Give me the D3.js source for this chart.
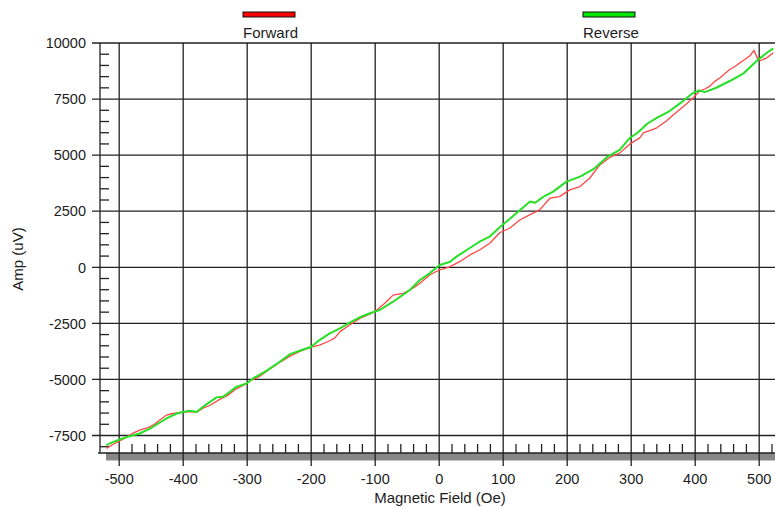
<!DOCTYPE html>
<html>
<head>
<meta charset="utf-8">
<script src="https://cdn.jsdelivr.net/npm/d3@7"></script>
<style>
  body { margin: 0; background: #fff; }
  svg { display: block; font-family: "Liberation Sans", Arial, sans-serif; }
  .grid line { stroke: #222; stroke-width: 1.3; }
  .tick-label { font-size: 14.5px; fill: #1c1c1c; }
  .title { font-size: 15px; fill: #1c1c1c; }
</style>
</head>
<body>
<svg id="chart" width="775" height="507"></svg>
<script>
// Forward sweep (red)
var forwardField = [-520, -510, -500, -490, -480, -468, -455, -445, -436, -426, -418, -410, -400, -390, -379, -369, -358, -343, -330, -317, -305, -295, -280, -265, -250, -233, -218, -200, -187, -171, -163, -155, -140, -124, -108, -95, -85, -72, -64, -56, -46, -38, -30, -15, 0, 8, 17, 32, 48, 63, 79, 95, 110, 126, 142, 157, 173, 188, 204, 220, 235, 251, 267, 282, 298, 313, 319, 330, 340, 355, 366, 376, 387, 397, 407, 415, 423, 431, 439, 447, 454, 462, 470, 477, 485, 492, 498, 503, 512, 522];
var forwardAmp = [-8080, -7900, -7750, -7600, -7420, -7260, -7150, -7000, -6800, -6590, -6530, -6490, -6450, -6430, -6460, -6280, -6150, -5890, -5700, -5420, -5250, -5060, -4850, -4550, -4250, -3960, -3750, -3560, -3470, -3275, -3150, -2870, -2575, -2280, -2080, -1850, -1600, -1240, -1200, -1160, -1015, -880, -715, -345, -120, -60, 30, 250, 550, 770, 1070, 1550, 1740, 2110, 2350, 2560, 3080, 3150, 3450, 3600, 3970, 4565, 4910, 5090, 5500, 5760, 5995, 6100, 6220, 6520, 6800, 7035, 7300, 7560, 7855, 7950, 8080, 8300, 8450, 8650, 8820, 8950, 9120, 9250, 9420, 9670, 9270, 9220, 9340, 9565];

// Reverse sweep (green)
var reverseField = [-520, -509, -499, -484, -468, -452, -439, -426, -410, -400, -390, -379, -369, -358, -348, -338, -327, -317, -301, -291, -270, -249, -233, -218, -200, -187, -171, -155, -140, -124, -108, -93, -72, -46, -30, -15, 1, 17, 27, 43, 63, 79, 95, 110, 120, 142, 150, 163, 178, 199, 220, 241, 262, 282, 298, 310, 325, 340, 360, 381, 397, 407, 415, 433, 454, 475, 496, 512, 522];
var reverseAmp = [-7930, -7785, -7680, -7530, -7410, -7190, -6965, -6740, -6520, -6450, -6400, -6450, -6220, -6000, -5800, -5775, -5550, -5330, -5180, -4955, -4615, -4210, -3870, -3720, -3540, -3245, -2950, -2720, -2470, -2230, -2050, -1905, -1535, -1015, -565, -270, 100, 250, 475, 770, 1140, 1370, 1800, 2150, 2400, 2930, 2880, 3150, 3375, 3820, 4040, 4375, 4910, 5235, 5770, 6000, 6400, 6665, 6965, 7410, 7780, 7885, 7810, 8005, 8305, 8630, 9195, 9565, 9760];

var xTicks = [-500, -400, -300, -200, -100, 0, 100, 200, 300, 400, 500];
var yTicks = [-7500, -5000, -2500, 0, 2500, 5000, 7500, 10000];
var seriesNames = ["Forward", "Reverse"];

var svg = d3.select("svg#chart");

var x = d3.scaleLinear().domain([-530, 530]).range([100, 778.4]);
var y = d3.scaleLinear().domain([-8280, 10000]).range([453, 43]);

var left = x.range()[0], right = x.range()[1];
var top_ = y.range()[1], bottom = y.range()[0];

// gray shadow under the x axis
svg.append("rect")
  .attr("x", 106).attr("y", bottom)
  .attr("width", right - 106).attr("height", 7.5)
  .attr("fill", "#878787");

var grid = svg.append("g").attr("class", "grid");

// horizontal grid lines (10000 is the top border)
grid.selectAll("line.h")
  .data(yTicks)
  .enter().append("line")
  .attr("x1", left - 8).attr("x2", right)
  .attr("y1", d => y(d)).attr("y2", d => y(d));

// vertical grid lines, continued down as major ticks
grid.selectAll("line.v")
  .data(xTicks)
  .enter().append("line")
  .attr("x1", d => x(d)).attr("x2", d => x(d))
  .attr("y1", top_).attr("y2", bottom + 13);

// axis lines
grid.append("line").attr("x1", left).attr("x2", left).attr("y1", top_).attr("y2", bottom);
grid.append("line").attr("x1", left - 2).attr("x2", right).attr("y1", bottom).attr("y2", bottom);

// minor ticks
var yMinor = d3.range(-8000, 10000, 500).filter(d => d % 2500 !== 0);
grid.selectAll("line.ym")
  .data(yMinor)
  .enter().append("line")
  .attr("x1", left).attr("x2", left + 9)
  .attr("y1", d => y(d)).attr("y2", d => y(d));

var xMinor = d3.range(-500, 521, 20).filter(d => d % 100 !== 0);
grid.selectAll("line.xm")
  .data(xMinor)
  .enter().append("line")
  .attr("x1", d => x(d)).attr("x2", d => x(d))
  .attr("y1", bottom - 9).attr("y2", bottom);

// tick labels
svg.append("g").selectAll("text")
  .data(yTicks)
  .enter().append("text")
  .attr("class", "tick-label")
  .attr("x", 86)
  .attr("y", d => y(d))
  .attr("dy", "0.36em")
  .attr("text-anchor", "end")
  .text(d => d);

svg.append("g").selectAll("text")
  .data(xTicks)
  .enter().append("text")
  .attr("class", "tick-label")
  .attr("x", d => x(d))
  .attr("y", 484)
  .attr("text-anchor", "middle")
  .text(d => d);

// axis titles
svg.append("text")
  .attr("class", "title")
  .attr("x", 440).attr("y", 503)
  .attr("text-anchor", "middle")
  .text("Magnetic Field (Oe)");

svg.append("text")
  .attr("class", "title")
  .attr("transform", "translate(23,259) rotate(-90)")
  .attr("text-anchor", "middle")
  .text("Amp (uV)");

// data lines
var line = d3.line().x(d => x(d[0])).y(d => y(d[1]));

svg.append("path")
  .datum(d3.zip(forwardField, forwardAmp))
  .attr("fill", "none")
  .attr("stroke", "#ff4545")
  .attr("stroke-width", 1.3)
  .attr("stroke-linejoin", "round")
  .attr("d", line);

svg.append("path")
  .datum(d3.zip(reverseField, reverseAmp))
  .attr("fill", "none")
  .attr("stroke", "#25e025")
  .attr("stroke-width", 2)
  .attr("stroke-linejoin", "round")
  .attr("d", line);

// legend
var legendColors = ["#ff0000", "#00e600"];
var legendX = [243, 583];
var legend = svg.append("g").selectAll("g")
  .data(seriesNames)
  .enter().append("g")
  .attr("transform", (d, i) => `translate(${legendX[i]},0)`);

legend.append("rect")
  .attr("x", 0).attr("y", 12)
  .attr("width", 52).attr("height", 5)
  .attr("fill", (d, i) => legendColors[i])
  .attr("stroke", "#111")
  .attr("stroke-width", 1);

legend.append("text")
  .attr("class", "title")
  .attr("x", 0).attr("y", 38)
  .text(d => d);
</script>
</body>
</html>
